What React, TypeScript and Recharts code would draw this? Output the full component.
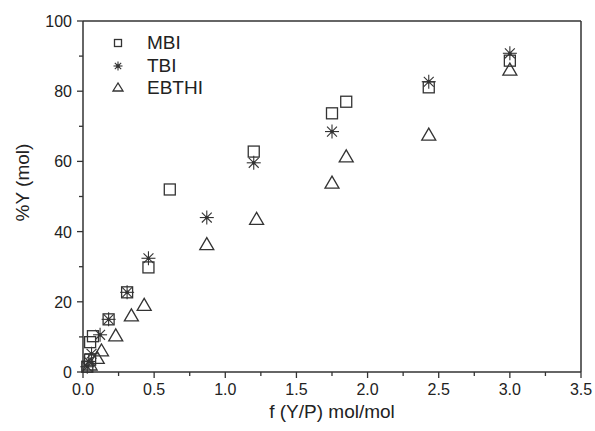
import React from 'react';
import {
  ReferenceLine,
  Scatter,
  ScatterChart,
  XAxis,
  YAxis,
} from 'recharts';

const mbiX = [0.03, 0.05, 0.05, 0.07, 0.18, 0.31, 0.46, 0.61, 1.2, 1.75, 1.85, 2.43, 3.0];
const mbiY = [1.5, 3.5, 8.5, 10.2, 15, 22.7, 29.8, 52, 62.8, 73.7, 77, 81.1, 88.7];

const tbiX = [0.03, 0.04, 0.06, 0.12, 0.18, 0.31, 0.46, 0.87, 1.2, 1.75, 2.43, 3.0];
const tbiY = [1.5, 3, 5.2, 10.6, 15, 22.7, 32.4, 44, 59.6, 68.5, 82.7, 90.8];

const ebthiX = [0.05, 0.1, 0.13, 0.23, 0.34, 0.43, 0.87, 1.22, 1.75, 1.85, 2.43, 3.0];
const ebthiY = [2, 3.9, 6, 10.3, 16, 19, 36.3, 43.5, 53.8, 61.3, 67.5, 86];

const xTicks = [0, 0.25, 0.5, 0.75, 1, 1.25, 1.5, 1.75, 2, 2.25, 2.5, 2.75, 3, 3.25, 3.5];
const yTicks = [0, 10, 20, 30, 40, 50, 60, 70, 80, 90, 100];

const seriesNames = ['MBI', 'TBI', 'EBTHI'];

const zip = (xs: number[], ys: number[]) => xs.map((x, i) => ({ x, y: ys[i] }));

const mbiData = zip(mbiX, mbiY);
const tbiData = zip(tbiX, tbiY);
const ebthiData = zip(ebthiX, ebthiY);

const INK = '#333';
const FONT = '"Liberation Sans", Arial, sans-serif';

function Square({ cx, cy, s = 11 }: any) {
  return (
    <rect x={cx - s / 2} y={cy - s / 2} width={s} height={s} fill="none" stroke={INK} strokeWidth={1.3} />
  );
}

function Star({ cx, cy, r = 7 }: any) {
  const d = r * 0.707;
  return (
    <g stroke={INK} strokeWidth={1.1}>
      <line x1={cx - r} y1={cy} x2={cx + r} y2={cy} />
      <line x1={cx} y1={cy - r} x2={cx} y2={cy + r} />
      <line x1={cx - d} y1={cy - d} x2={cx + d} y2={cy + d} />
      <line x1={cx - d} y1={cy + d} x2={cx + d} y2={cy - d} />
      <circle cx={cx} cy={cy} r={1.3} fill={INK} />
    </g>
  );
}

function Triangle({ cx, cy, w = 14, h = 12 }: any) {
  const pts = `${cx},${cy - h / 2 - 1} ${cx - w / 2},${cy + h / 2 - 1} ${cx + w / 2},${cy + h / 2 - 1}`;
  return <polygon points={pts} fill="none" stroke={INK} strokeWidth={1.3} />;
}

function XTick({ x, y, payload }: any) {
  const v = payload.value;
  const major = Math.abs(v * 2 - Math.round(v * 2)) < 1e-6;
  return (
    <g>
      <line x1={x} y1={y} x2={x} y2={y + (major ? 6 : 4)} stroke={INK} strokeWidth={1.3} />
      {major && (
        <text x={x} y={y + 23} textAnchor="middle" fontSize={16} fontFamily={FONT} fill="#222">
          {v.toFixed(1)}
        </text>
      )}
    </g>
  );
}

function YTick({ x, y, payload }: any) {
  const v = payload.value;
  const major = v % 20 === 0;
  return (
    <g>
      <line x1={x} y1={y} x2={x - (major ? 6 : 4)} y2={y} stroke={INK} strokeWidth={1.3} />
      {major && (
        <text x={x - 11} y={y + 6} textAnchor="end" fontSize={16} fontFamily={FONT} fill="#222">
          {v}
        </text>
      )}
    </g>
  );
}

function YTitle({ viewBox }: any) {
  const cx = viewBox.x - 1;
  const cy = viewBox.y + viewBox.height / 2 - 14;
  return (
    <text
      x={cx}
      y={cy}
      transform={`rotate(-90, ${cx}, ${cy})`}
      textAnchor="middle"
      dominantBaseline="central"
      fontSize={19}
      fontFamily={FONT}
      fill="#222"
    >
      %Y (mol)
    </text>
  );
}

function LegendBox() {
  const icons = [
    <Square cx={10} cy={11} s={7} />,
    <Star cx={10} cy={11} r={4.5} />,
    <Triangle cx={10} cy={11} w={10} h={8} />,
  ];
  return (
    <div
      style={{
        position: 'absolute',
        left: 108,
        top: 32,
        fontFamily: FONT,
        fontSize: 19,
        color: '#222',
      }}
    >
      {seriesNames.map((name, i) => (
        <div key={name} style={{ display: 'flex', alignItems: 'center', height: 22.5 }}>
          <svg width={20} height={22} style={{ marginRight: 19 }}>
            {icons[i]}
          </svg>
          <span>{name}</span>
        </div>
      ))}
    </div>
  );
}

export default function App() {
  return (
    <div style={{ position: 'absolute', left: 0, top: 0, width: 595, height: 431, background: '#fff' }}>
      <ScatterChart width={595} height={431} margin={{ top: 21, right: 14, bottom: 19, left: 23 }}>
        <XAxis
          type="number"
          dataKey="x"
          domain={[0, 3.5]}
          ticks={xTicks}
          interval={0}
          tickLine={false}
          tickSize={0}
          tickMargin={0}
          tick={<XTick />}
          height={40}
          axisLine={{ stroke: INK, strokeWidth: 1.5 }}
          label={{
            value: 'f (Y/P) mol/mol',
            position: 'insideBottom',
            offset: -6,
            style: { fontSize: 19, fontFamily: FONT, fill: '#222' },
          }}
        />
        <YAxis
          type="number"
          dataKey="y"
          domain={[0, 100]}
          ticks={yTicks}
          interval={0}
          tickLine={false}
          tickSize={0}
          tickMargin={0}
          tick={<YTick />}
          width={60}
          axisLine={{ stroke: INK, strokeWidth: 1.5 }}
          label={<YTitle />}
        />
        <ReferenceLine y={100} stroke={INK} strokeWidth={1.5} />
        <ReferenceLine x={3.5} stroke={INK} strokeWidth={1.5} />
        <Scatter name="MBI" data={mbiData} shape={<Square />} isAnimationActive={false} />
        <Scatter name="TBI" data={tbiData} shape={<Star />} isAnimationActive={false} />
        <Scatter name="EBTHI" data={ebthiData} shape={<Triangle />} isAnimationActive={false} />
      </ScatterChart>
      <LegendBox />
    </div>
  );
}
